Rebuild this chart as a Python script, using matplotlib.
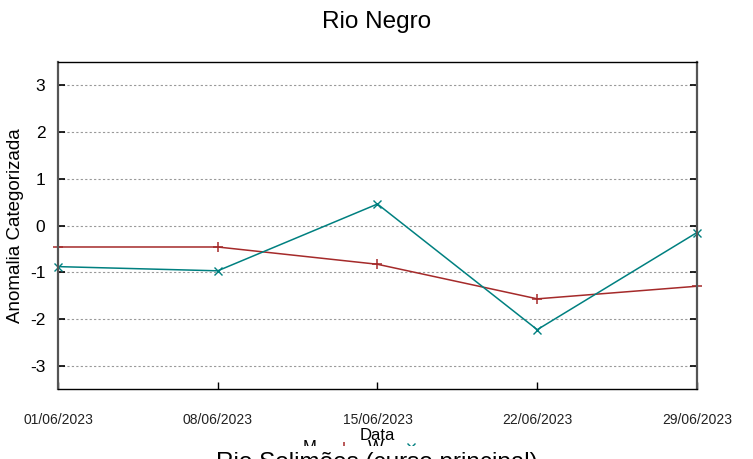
import numpy as np
import pandas as pd
import matplotlib
matplotlib.use("Agg")
import matplotlib.pyplot as plt
import matplotlib.dates as mdates
from matplotlib.patches import Rectangle

plt.rcParams['font.family'] = ['Liberation Sans', 'DejaVu Sans']
plt.rcParams['axes.unicode_minus'] = False

# dados
datas = pd.to_datetime(["2023-06-01", "2023-06-08", "2023-06-15", "2023-06-22", "2023-06-29"])
serie_M = [-0.46, -0.46, -0.83, -1.57, -1.30]
serie_W = [-0.88, -0.97, 0.46, -2.23, -0.15]
yticks = [-3, -2, -1, 0, 1, 2, 3]

cor_M = '#a52a2a'
cor_W = '#008080'

fig = plt.figure(figsize=(7.53, 4.59), dpi=100)
ax = fig.add_axes([0.0770, 0.1525, 0.8486, 0.7124])

ax.plot(datas, serie_M, color=cor_M, lw=1.1, marker='+', ms=7, mew=1.1, label='M', clip_on=False)
ax.plot(datas, serie_W, color=cor_W, lw=1.1, marker='x', ms=6, mew=1.0, label='W', clip_on=False)

ax.set_xlim(datas[0], datas[-1])
ax.set_ylim(-3.5, 3.5)
ax.set_yticks(yticks)
ax.set_xticks(datas)
ax.xaxis.set_major_formatter(mdates.DateFormatter('%d/%m/%Y'))
ax.yaxis.grid(True, linestyle=(0, (2, 2)), color='#999999', lw=0.8)
ax.set_axisbelow(True)

ax.tick_params(axis='y', direction='in', length=5, width=1.2, labelsize=12.5, pad=9,
               right=True, colors='black')
ax.tick_params(axis='x', direction='in', length=5, width=1.0, labelsize=10, pad=17)
for lab in ax.get_xticklabels():
    lab.set_color('#222222')

for s in ['left', 'right']:
    ax.spines[s].set_color('#555555')
    ax.spines[s].set_linewidth(1.6)
for s in ['top', 'bottom']:
    ax.spines[s].set_color('black')
    ax.spines[s].set_linewidth(1.0)

ax.set_xlabel('Data', fontsize=12, labelpad=1)
ax.set_ylabel('Anomalia Categorizada', fontsize=13.5, labelpad=4)

fig.text(0.5, 1 - 22 / 459, 'Rio Negro', ha='center', va='center', fontsize=17.5)

# legenda (parcialmente coberta pelo painel seguinte)
fig.legend(loc='center', bbox_to_anchor=(0.488, 1 - 448 / 459), ncol=2, frameon=False,
           markerfirst=False, fontsize=12, handlelength=2.5, columnspacing=0.2,
           handletextpad=0.4)

# inicio do painel seguinte
fig.patches.append(Rectangle((0, 0), 1, 1 - 446 / 459, transform=fig.transFigure,
                             facecolor='white', edgecolor='none', zorder=10))
fig.text(0.5, 1 - 469 / 459, 'Rio Solimões (curso principal)', ha='center', va='baseline',
         fontsize=17.5, zorder=11)

fig.savefig('out.png', dpi=100)
